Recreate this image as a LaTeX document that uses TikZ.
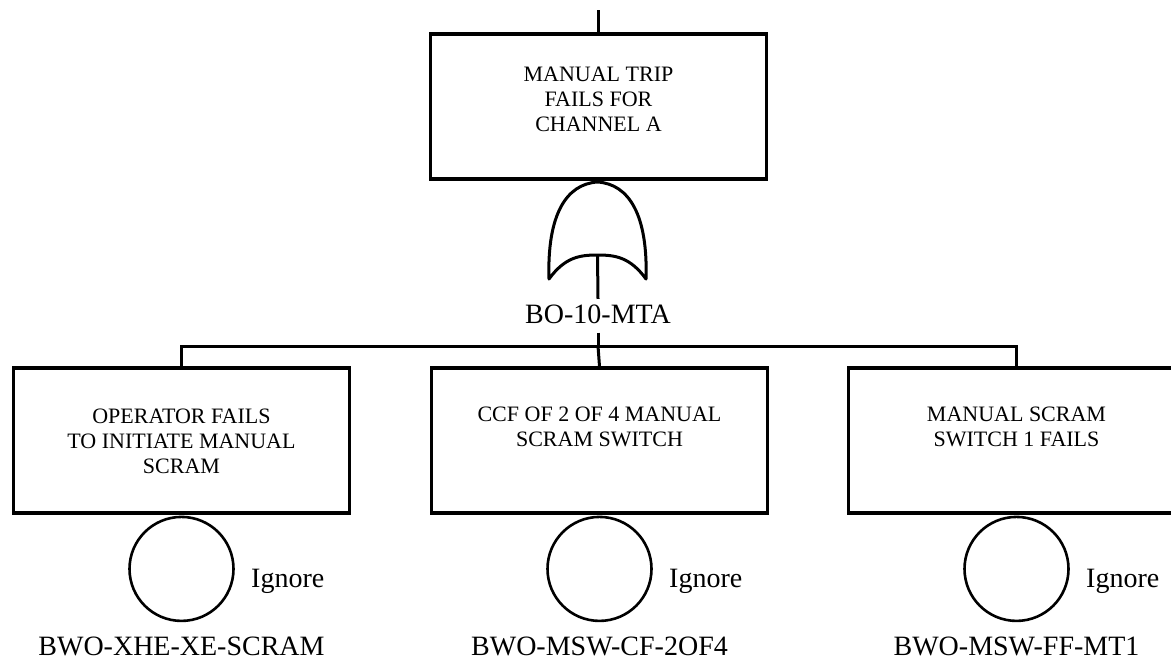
\documentclass[tikz,border=0pt]{standalone}
\usepackage{fontspec}
\setmainfont{Liberation Serif}
\usetikzlibrary{positioning}
\definecolor{ftline}{RGB}{0,0,0}
\tikzset{
  evbox/.style={rectangle, draw=ftline, line width=1.6pt,
    minimum width=168pt, minimum height=72.5pt, inner sep=0pt},
  evtext/.style={anchor=north, align=center, inner sep=0pt,
    font=\fontsize{11}{12.5}\selectfont},
  basic/.style={circle, draw=ftline, line width=1.3pt,
    minimum size=52pt, inner sep=0pt},
  idlabel/.style={anchor=base, inner sep=0pt, font=\fontsize{14}{16}\selectfont},
  tag/.style={anchor=base west, inner sep=0pt, font=\fontsize{14}{16}\selectfont},
  line/.style={line width=1.5pt, color=ftline}
}
\begin{document}
\begin{tikzpicture}[x=0.5pt, y=-0.5pt]
  \useasboundingbox (0,0) rectangle (1171,665);

  % Top event
  \node[evbox] (top) at (598.5,106.5) {};
  \node[evtext] (toptxt) at ([yshift=-17pt]top.north) {MANUAL TRIP\\FAILS FOR\\CHANNEL A};
  \coordinate (in) at (598.5,10);
  \draw[line] (in) -- (top.north);

  % OR gate
  \coordinate (gL) at (549,279);
  \coordinate (gR) at (646,279);
  \coordinate (gT) at (597.5,182);
  \coordinate (gI) at (597.5,255);
  \draw[line, line join=round] (gL) .. controls (547,215) and (566,184) .. (gT)
    .. controls (629,184) and (648,215) .. (gR)
    .. controls (630,257) and (615,255) .. (gI)
    .. controls (580,255) and (565,257) .. (gL) -- cycle;
  \node[idlabel] (gl) at (598,323) {BO-10-MTA};
  \draw[line] (gI) -- ([yshift=2.5pt]gl.north);
  \coordinate (bus) at (598,346);
  \draw[line] ([yshift=-4.5pt]gl.south) -- (bus);

  % Basic events
  \node[evbox] (b1) at (181.5,440.5) {};
  \node[evbox] (b2) at (599.5,440.5) {};
  \node[evbox] (b3) at (1016.5,440.5) {};
  \draw[line] (b1.north) |- (bus) -| (b3.north);
  \draw[line] (bus) -- (b2.north);

  \node[evtext] (t1) at ([yshift=-21pt]b1.north) {OPERATOR FAILS\\TO INITIATE MANUAL\\SCRAM};
  \node[evtext] (t2) at ([yshift=-20pt]b2.north) {CCF OF 2 OF 4 MANUAL\\SCRAM SWITCH};
  \node[evtext] (t3) at ([yshift=-20pt]b3.north) {MANUAL SCRAM\\SWITCH 1 FAILS};

  \node[basic, below=0.5pt of b1] (c1) {};
  \node[basic, below=0.5pt of b2] (c2) {};
  \node[basic, below=0.5pt of b3] (c3) {};

  \node[tag] (i1) at ([shift={(16,19)}]c1.east) {Ignore};
  \node[tag] (i2) at ([shift={(16,19)}]c2.east) {Ignore};
  \node[tag] (i3) at ([shift={(16,19)}]c3.east) {Ignore};

  \node[idlabel] (l1) at ([shift={(0,33)}]c1.south) {BWO-XHE-XE-SCRAM};
  \node[idlabel] (l2) at ([shift={(0,33)}]c2.south) {BWO-MSW-CF-2OF4};
  \node[idlabel] (l3) at ([shift={(0,33)}]c3.south) {BWO-MSW-FF-MT1};
\end{tikzpicture}
\end{document}
